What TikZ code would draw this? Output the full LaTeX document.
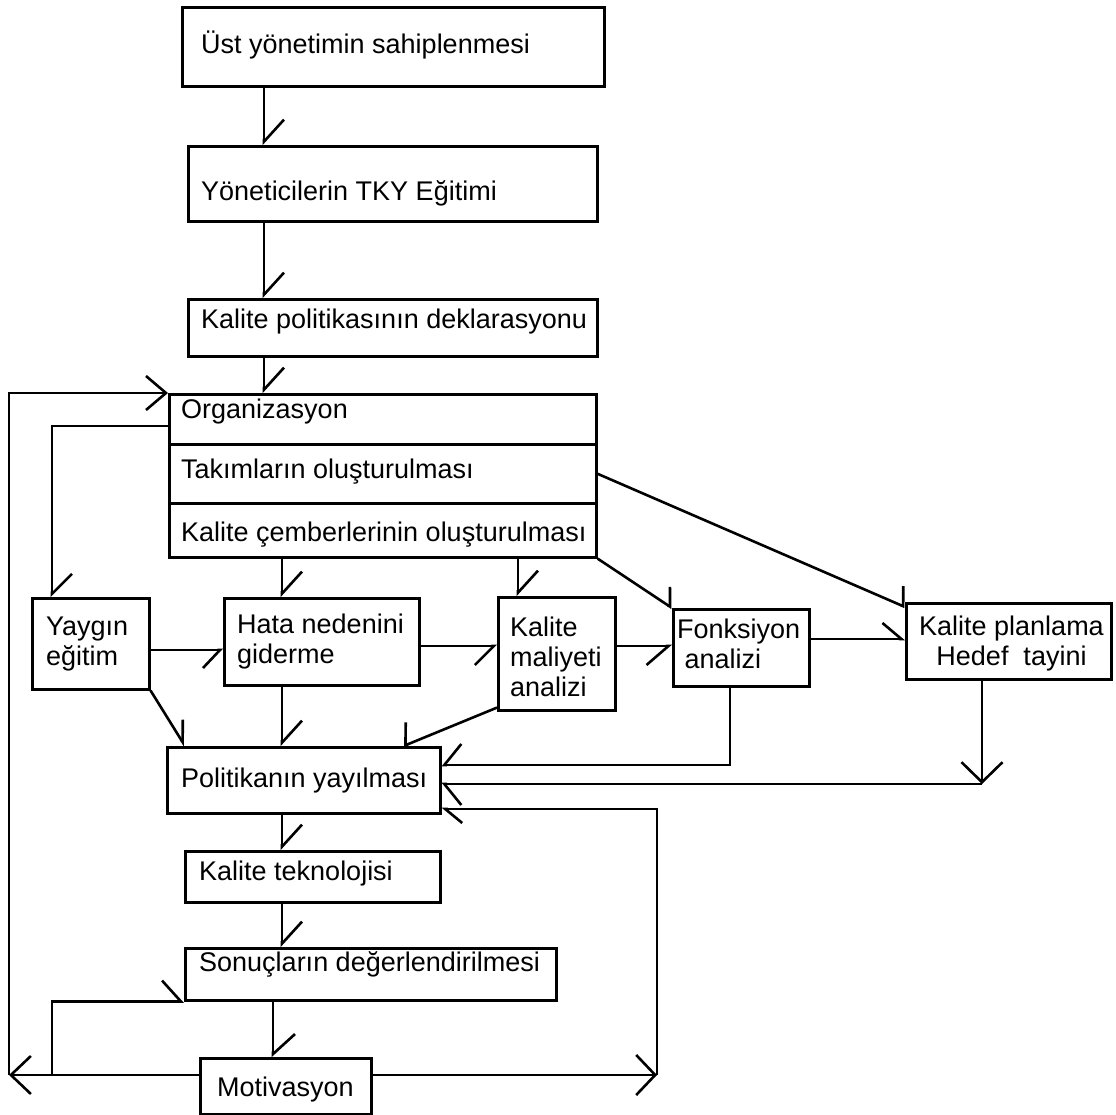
\documentclass[tikz,border=0pt]{standalone}
\usepackage{fontspec}
\setmainfont{Liberation Sans}
\usetikzlibrary{arrows.meta,calc}

\begin{document}
\begin{tikzpicture}[x=1pt, y=-1pt,
    kutu/.style={draw, line width=2.6pt, anchor=north west, inner sep=0pt},
    yazi/.style={anchor=west, align=left, inner sep=0pt, font=\fontsize{27}{30}\selectfont},
    hat/.style={line width=2.6pt},
    ok/.style 2 args={hat, -{Straight Barb[harpoon, length=#1, width=#2]}},
    oks/.style 2 args={hat, -{Straight Barb[harpoon, swap, length=#1, width=#2]}},
    okv/.style 2 args={hat, -{Straight Barb[length=#1, width=#2]}}]

    % Page size taken from the scanned figure
    \useasboundingbox (0,0) rectangle (1116,1115);

    % Columns and rows the connectors run along
    \coordinate (k1) at (264,0);
    \coordinate (k2) at (282,0);
    \coordinate (k3) at (518,0);
    \coordinate (k4) at (730,0);
    \coordinate (k5) at (982,0);
    \coordinate (k6) at (657,0);
    \coordinate (k7) at (9,0);
    \coordinate (k8) at (52,0);
    \coordinate (k9) at (273,0);
    \coordinate (r1) at (0,426);
    \coordinate (r2) at (0,650);
    \coordinate (r3) at (0,646);
    \coordinate (r4) at (0,639);
    \coordinate (r5) at (0,765);
    \coordinate (r6) at (0,784);
    \coordinate (r7) at (0,809);
    \coordinate (r8) at (0,1075);

    % Main chain at the top
    \node[kutu, minimum width=422pt, minimum height=79pt, label={[yazi, xshift=20pt, yshift=2pt]west:Üst yönetimin sahiplenmesi}] (ust) at (181,6) {};
    \node[kutu, minimum width=409pt, minimum height=75pt, label={[yazi, xshift=14pt, yshift=-10pt]west:Yöneticilerin TKY Eğitimi}] (yon) at (187,145) {};
    \node[kutu, minimum width=409pt, minimum height=57pt, label={[yazi, xshift=14pt, yshift=6pt]west:Kalite politikasının deklarasyonu}] (dek) at (187,298) {};

    % Organisation box, three rows
    \node[kutu, minimum width=427pt, minimum height=50pt, label={[yazi, xshift=13pt, yshift=8pt]west:Organizasyon}] (org) at (168,393) {};
    \node[kutu, minimum width=427pt, minimum height=59pt, label={[yazi, xshift=13pt, yshift=2pt]west:Takımların oluşturulması}] (takim) at (168,443) {};
    \node[kutu, minimum width=427pt, minimum height=54pt, label={[yazi, xshift=13pt, yshift=-4pt]west:Kalite çemberlerinin oluşturulması}] (cember) at (168,502) {};

    % Second row
    \node[kutu, minimum width=117pt, minimum height=91pt, label={[yazi, xshift=15pt]west:{Yaygın\\eğitim}}] (yaygin) at (31,597) {};
    \node[kutu, minimum width=195pt, minimum height=87pt, label={[yazi, xshift=14pt]west:{Hata nedenini\\giderme}}] (hata) at (223,597) {};
    \node[kutu, minimum width=117pt, minimum height=113pt, label={[yazi, xshift=13pt, yshift=-3pt]west:{Kalite\\maliyeti\\analizi}}] (maliyet) at (497,596) {};
    \node[kutu, minimum width=136pt, minimum height=77pt, label={[yazi, xshift=5pt, yshift=4pt]west:{Fonksiyon\\\ analizi}}] (fonk) at (672,608) {};
    \node[kutu, minimum width=205pt, minimum height=76pt, label={[yazi, align=center, xshift=14pt, yshift=-2pt]west:{Kalite planlama\\Hedef~ tayini}}] (plan) at (905,602) {};

    % Lower chain
    \node[kutu, minimum width=273pt, minimum height=66pt, label={[yazi, xshift=15pt]west:Politikanın yayılması}] (pol) at (166,746) {};
    \node[kutu, minimum width=255pt, minimum height=51pt, label={[yazi, xshift=15pt, yshift=3pt]west:Kalite teknolojisi}] (tek) at (184,850) {};
    \node[kutu, minimum width=371pt, minimum height=52pt, label={[yazi, xshift=15pt, yshift=10pt]west:Sonuçların değerlendirilmesi}] (sonuc) at (184,947) {};
    \node[kutu, minimum width=171pt, minimum height=56pt, label={[yazi, xshift=18pt, yshift=-3pt]west:Motivasyon}] (motiv) at (199,1057) {};

    % Top chain arrows
    \draw[ok={22pt}{40pt}] (ust.south -| k1) -- (yon.north -| k1);
    \draw[ok={22pt}{40pt}] (yon.south -| k1) -- (dek.north -| k1);
    \draw[ok={22pt}{40pt}] (dek.south -| k1) -- (org.north -| k1);

    % Out of the organisation box
    \draw[ok={20pt}{40pt}] (org.west |- r1) -- (k8 |- r1) -- (yaygin.north -| k8);
    \draw[ok={22pt}{40pt}] (cember.south -| k2) -- (hata.north -| k2);
    \draw[ok={22pt}{40pt}] (cember.south -| k3) -- (maliyet.north -| k3);
    \draw[ok={11pt}{33pt}] (cember.south east) -- (fonk.north west);
    \draw[ok={8pt}{37pt}] (takim.east) -- ($(plan.north west)+(0,5)$);

    % Along the second row
    \draw[oks={17pt}{36pt}] (yaygin.east |- r2) -- (hata.west |- r2);
    \draw[oks={19pt}{38pt}] (hata.east |- r3) -- (maliyet.west |- r3);
    \draw[oks={22pt}{38pt}] (maliyet.east |- r3) -- (fonk.west |- r3);
    \draw[ok={19pt}{32pt}] (fonk.east |- r4) -- (plan.west |- r4);

    % Into Politikanin yayilmasi
    \draw[ok={19pt}{24pt}] (yaygin.south east) -- ($(pol.north west)+(19,0)$);
    \draw[ok={22pt}{40pt}] (hata.south -| k2) -- (pol.north -| k2);
    \draw[oks={9pt}{42pt}] ($(maliyet.south west)+(0,-4)$) -- ($(pol.north east)+(-38,0)$);
    \draw[oks={17pt}{42pt}] (fonk.south -| k4) -- (k4 |- r5) -- (pol.east |- r5);
    \draw[okv={20pt}{41pt}] (plan.south -| k5) -- (k5 |- r6);
    \draw[ok={17pt}{42pt}] (k5 |- r6) -- (pol.east |- r6);

    % Lower chain arrows
    \draw[ok={22pt}{40pt}] (pol.south -| k2) -- (tek.north -| k2);
    \draw[ok={22pt}{40pt}] (tek.south -| k2) -- (sonuc.north -| k2);
    \draw[ok={20pt}{44pt}] (sonuc.south -| k9) -- (motiv.north -| k9);

    % Feedback loops from Motivasyon
    \draw[okv={19pt}{40pt}] (motiv.east |- r8) -- (k6 |- r8);
    \draw[ok={17pt}{28pt}] (k6 |- r8) -- (k6 |- r7) -- (pol.east |- r7);
    \draw[okv={20pt}{38pt}] (motiv.west |- r8) -- (k7 |- r8);
    \draw[okv={20pt}{34pt}] (k7 |- r8) -- (k7 |- org.north) -- (org.north west);
    \draw[ok={19pt}{42pt}] (k8 |- r8) -- (k8 |- sonuc.south) -- (sonuc.south west);

\end{tikzpicture}
\end{document}
